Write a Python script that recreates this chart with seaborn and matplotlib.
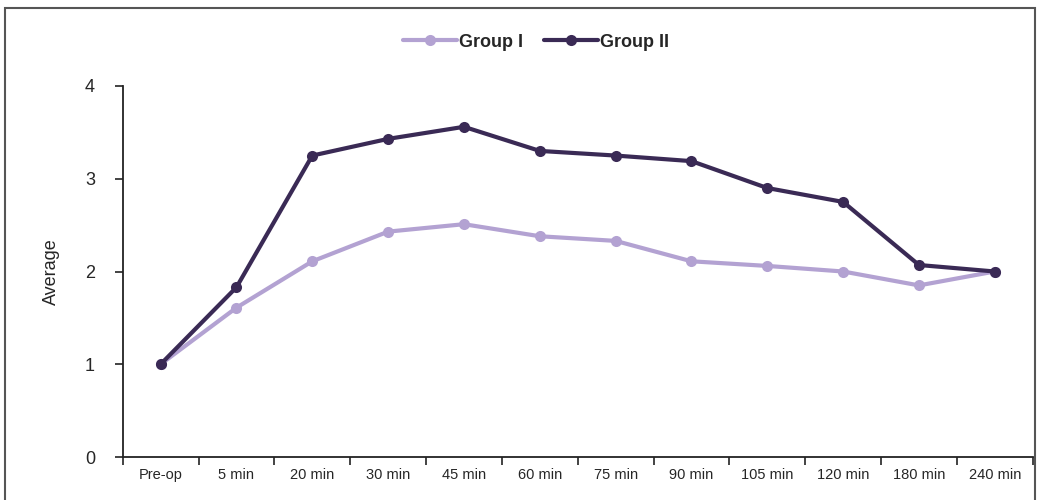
import matplotlib
matplotlib.use("Agg")
import pandas as pd
import seaborn as sns
from matplotlib import pyplot as plt
from matplotlib.patches import Rectangle

times = ["Pre-op", "5 min", "20 min", "30 min", "45 min", "60 min", "75 min",
         "90 min", "105 min", "120 min", "180 min", "240 min"]
group_1 = [1.0, 1.61, 2.11, 2.43, 2.51, 2.38, 2.33, 2.11, 2.06, 2.0, 1.85, 2.0]
group_2 = [1.0, 1.83, 3.25, 3.43, 3.56, 3.30, 3.25, 3.19, 2.90, 2.75, 2.07, 2.0]
groups = ["Group I", "Group II"]
colors = ["#b3a2d2", "#3a2a55"]

data = pd.DataFrame({
    "Time": times * 2,
    "Average": group_1 + group_2,
    "Group": [groups[0]] * len(times) + [groups[1]] * len(times),
})

sns.set_style("white")
plt.rcParams["font.family"] = ["Liberation Sans Narrow", "Liberation Sans", "DejaVu Sans"]

fig = plt.figure(figsize=(10.4, 5), dpi=100)
ax = fig.add_axes([0.118, 0.086, 0.875, 0.742])

sns.lineplot(data, x="Time", y="Average", hue="Group", palette=colors,
             marker="o", markersize=8, markeredgewidth=0, linewidth=3,
             sort=False, ax=ax)

ax.set_xlim(-0.5, len(times) - 0.5)
ax.set_ylim(0, 4)
ax.set_yticks([0, 1, 2, 3, 4])
ax.set_xticks(range(len(times)))
ax.set_xticklabels(times, fontsize=10.5)
ax.set_xticks([i - 0.5 for i in range(len(times) + 1)], minor=True)
ax.tick_params(bottom=True, left=True, which="both")
ax.tick_params(axis="x", which="major", length=0, pad=8)
ax.tick_params(axis="x", which="minor", length=6, width=1.2, direction="out", color="#222222")
ax.tick_params(axis="y", length=6, width=1.2, direction="out", color="#222222", labelsize=13, pad=14)
ax.set_xlabel("")
ax.set_ylabel("Average", fontsize=13, labelpad=18)

sns.despine(ax=ax)
for side in ["left", "bottom"]:
    ax.spines[side].set_color("#222222")
    ax.spines[side].set_linewidth(1.3)

leg = ax.legend(loc="center", bbox_to_anchor=(0.454, 1.118), ncols=2, frameon=False,
                handlelength=3, handletextpad=0.1, columnspacing=1.2,
                prop={"weight": "bold", "size": 13})

fig.add_artist(Rectangle((0.005, -0.01), 0.99, 0.995, transform=fig.transFigure,
                         fill=False, edgecolor="#555555", linewidth=1.5))

fig.savefig("out.png", dpi=100)
